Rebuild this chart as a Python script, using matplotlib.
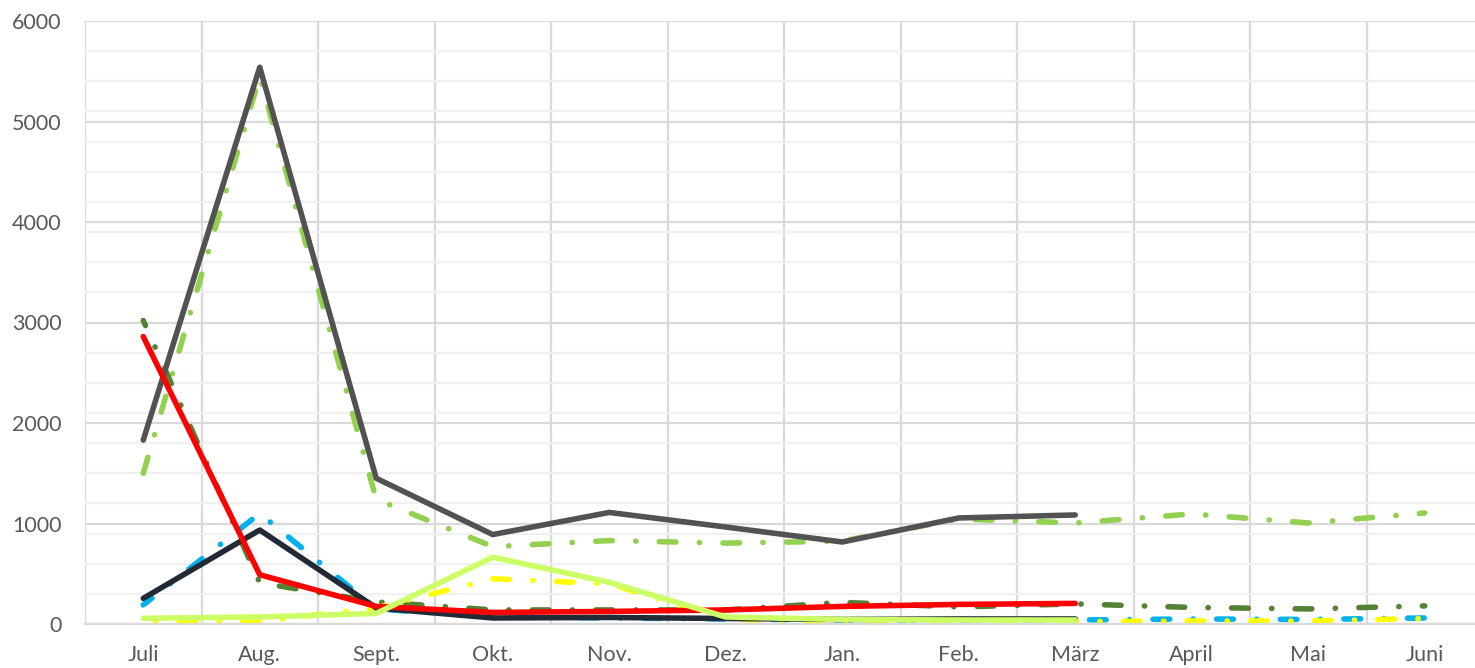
import numpy as np
import matplotlib
matplotlib.use("Agg")
import matplotlib.pyplot as plt

plt.rcParams['font.family'] = ['Lato', 'DejaVu Sans']

months = ["Juli", "Aug.", "Sept.", "Okt.", "Nov.", "Dez.", "Jan.", "Feb.", "März", "April", "Mai", "Juni"]

# dashed series (whole year)
light_green = [1500, 5450, 1240, 770, 830, 805, 825, 1045, 1005, 1095, 1005, 1105]
dark_green = [3020, 410, 220, 140, 140, 140, 215, 170, 200, 165, 150, 180]
blue = [190, 1100, 150, 70, 60, 50, 40, 40, 40, 50, 45, 60]
yellow = [20, 25, 160, 450, 400, 50, 15, 20, 25, 30, 30, 55]

# solid series (only until März)
gray = [1830, 5540, 1450, 890, 1110, 965, 816, 1055, 1085]
navy = [255, 935, 160, 60, 65, 55, 45, 50, 50]
red = [2860, 490, 175, 115, 125, 140, 175, 195, 205]
lime = [57, 70, 105, 665, 415, 70, 45, 40, 40]

fig = plt.figure(figsize=(14.75, 6.68), dpi=100)
W, H = 1475, 668
ax = fig.add_axes([85 / W, (H - 624) / H, 1398 / W, 603 / H])

x_full = np.arange(len(months))
lw = 4.0
dash = (3.0, 4.2, 0.05, 4.2)

def dashed(vals, color, offset=0):
    ax.plot(x_full[:len(vals)], vals, color=color, lw=lw, linestyle=(offset, dash),
            dash_capstyle='round', dash_joinstyle='round', clip_on=False)

def solid(vals, color):
    ax.plot(x_full[:len(vals)], vals, color=color, lw=lw,
            solid_capstyle='round', solid_joinstyle='round', clip_on=False)

dashed(light_green, "#92D050")
dashed(dark_green, "#548235", 2)
dashed(blue, "#00B0F0", 1)
dashed(yellow, "#FFFF00", 5)
solid(gray, "#525252")
solid(navy, "#222A35")
solid(red, "#FF0000")
solid(lime, "#CCFF66")

ax.set_xlim(-0.5, 11.5)
ax.set_ylim(0, 6000)
ax.set_xticks(x_full)
ax.set_xticklabels(months)
ax.set_xticks(np.arange(-0.5, 12, 1), minor=True)
ax.set_yticks(np.arange(0, 6001, 1000))
ax.set_yticks(np.arange(0, 6001, 300), minor=True)

ax.set_axisbelow(True)
ax.grid(which='minor', axis='y', color="#F0F0F0", lw=1.6)
ax.grid(which='major', axis='y', color="#D9D9D9", lw=1.6)
ax.grid(which='minor', axis='x', color="#D9D9D9", lw=1.6)
ax.grid(which='major', axis='x', visible=False)

for side in ['top', 'right', 'left']:
    ax.spines[side].set_visible(False)
ax.spines['bottom'].set_color("#D9D9D9")
ax.spines['bottom'].set_linewidth(1.6)

ax.tick_params(which='both', length=0)
ax.tick_params(axis='y', pad=17, labelsize=15.5, labelcolor="#595959")
ax.tick_params(axis='x', pad=15, labelsize=15.5, labelcolor="#595959")

fig.savefig("out.png", dpi=100)
